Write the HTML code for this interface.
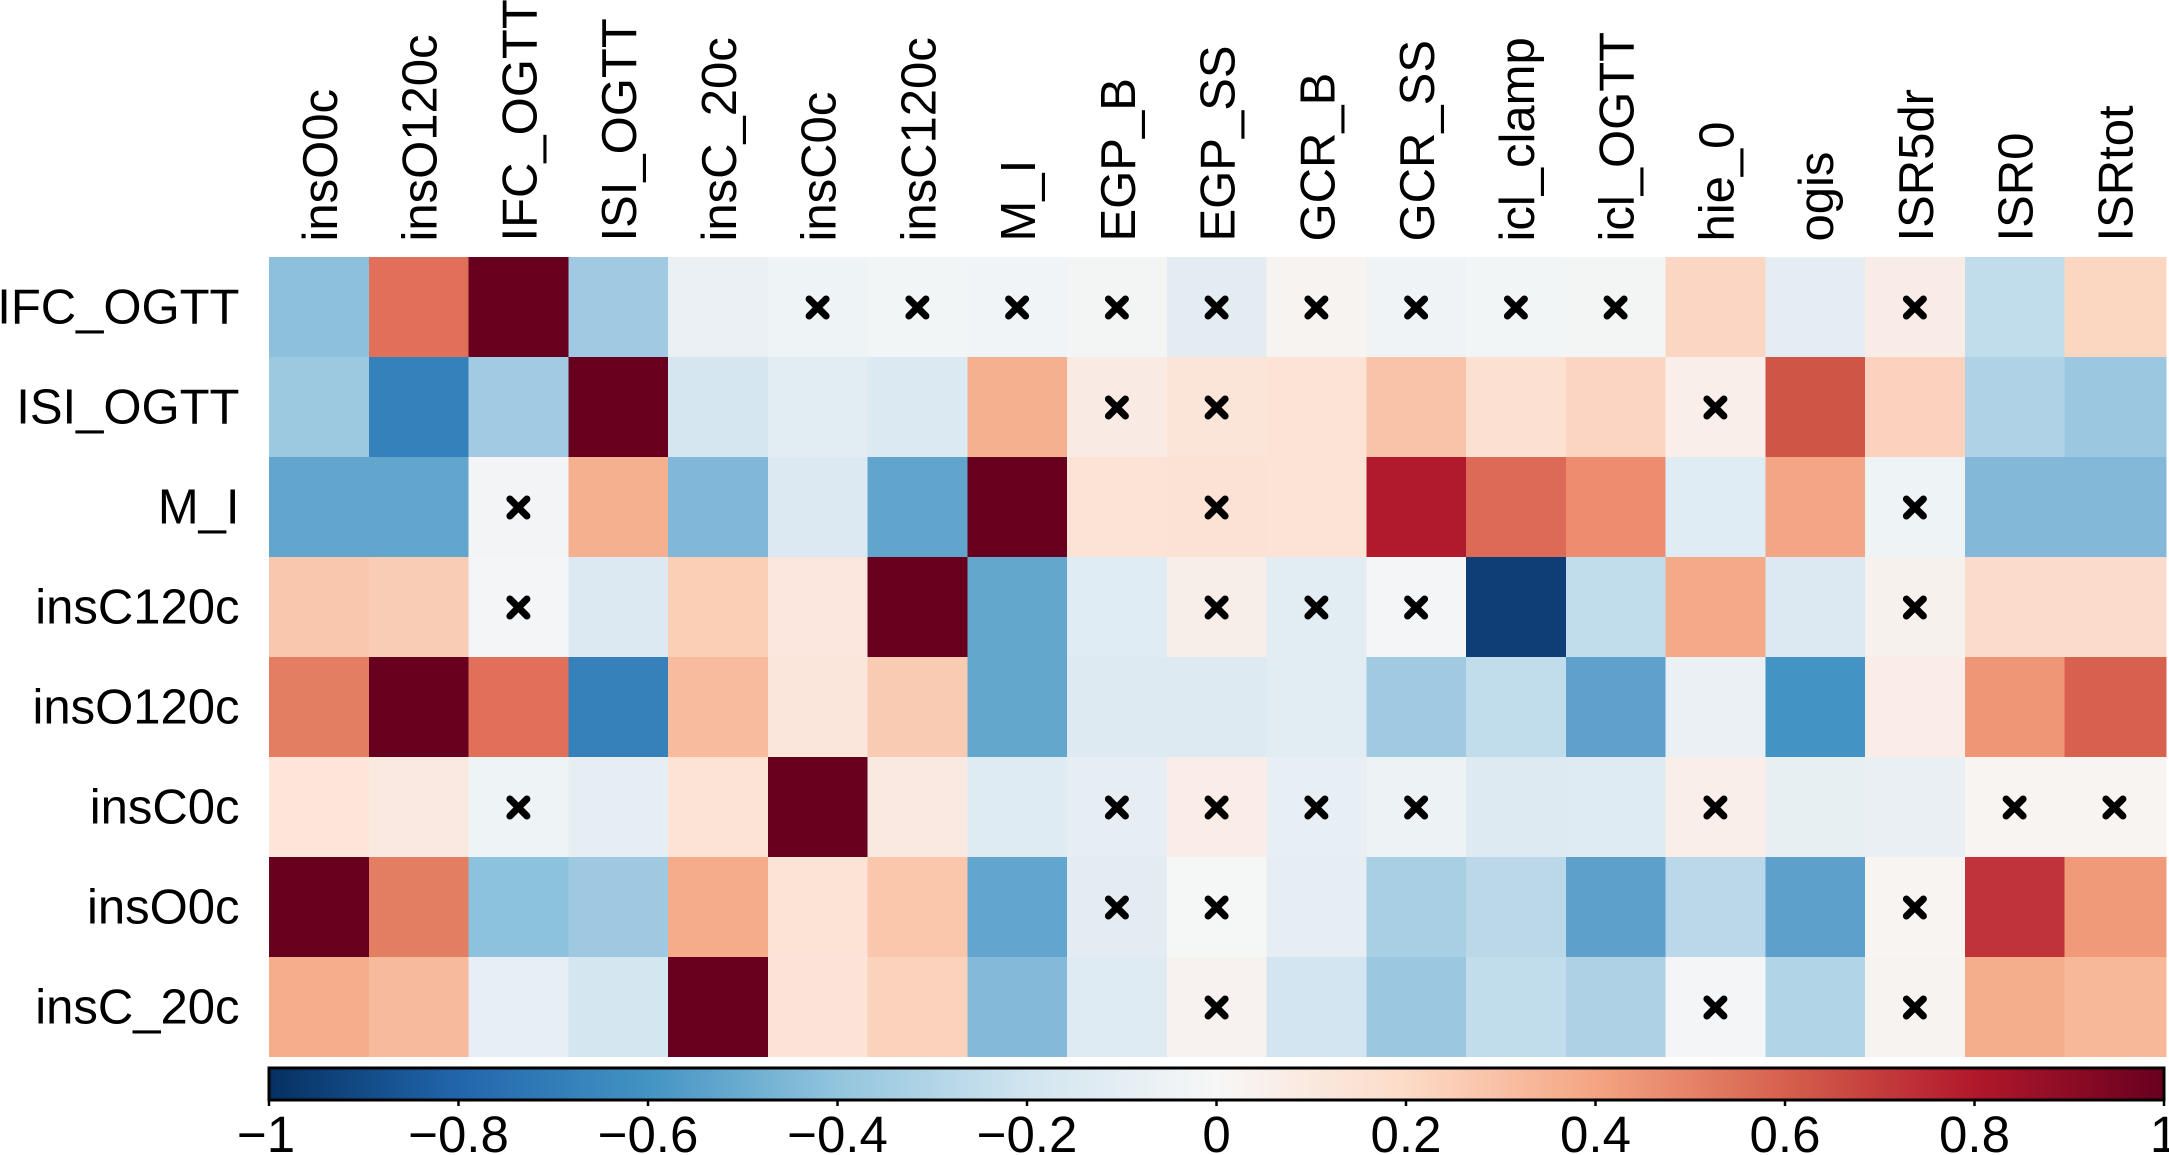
<!DOCTYPE html>
<html><head><meta charset="utf-8">
<style>
html,body{margin:0;padding:0;background:#fff;}
svg{display:block;}
text{font-family:"Liberation Sans",Arial,Helvetica,sans-serif;fill:#000;}
</style></head>
<body>
<svg width="2169" height="1155" viewBox="0 0 2169 1155" xmlns="http://www.w3.org/2000/svg">
<defs>
<linearGradient id="cb" x1="0" x2="1" y1="0" y2="0">
<stop offset="0" stop-color="#053061"/>
<stop offset="0.1" stop-color="#2166AC"/>
<stop offset="0.2" stop-color="#4393C3"/>
<stop offset="0.3" stop-color="#92C5DE"/>
<stop offset="0.4" stop-color="#D1E5F0"/>
<stop offset="0.5" stop-color="#F7F7F7"/>
<stop offset="0.6" stop-color="#FDDBC7"/>
<stop offset="0.7" stop-color="#F4A582"/>
<stop offset="0.8" stop-color="#D6604D"/>
<stop offset="0.9" stop-color="#B2182B"/>
<stop offset="1" stop-color="#67001F"/>
</linearGradient>
</defs>
<rect width="2169" height="1155" fill="#fff"/>

<!-- Column labels -->
<g font-size="49">
<text transform="translate(336.9,241.5) rotate(-90)">insO0c</text>
<text transform="translate(436.6,241.5) rotate(-90)">insO120c</text>
<text transform="translate(536.4,241.5) rotate(-90)">IFC_OGTT</text>
<text transform="translate(636.1,241.5) rotate(-90)">ISI_OGTT</text>
<text transform="translate(735.9,241.5) rotate(-90)">insC_20c</text>
<text transform="translate(835.6,241.5) rotate(-90)">insC0c</text>
<text transform="translate(935.4,241.5) rotate(-90)">insC120c</text>
<text transform="translate(1035.1,241.5) rotate(-90)">M_I</text>
<text transform="translate(1134.9,241.5) rotate(-90)">EGP_B</text>
<text transform="translate(1234.6,241.5) rotate(-90)">EGP_SS</text>
<text transform="translate(1334.4,241.5) rotate(-90)">GCR_B</text>
<text transform="translate(1434.1,241.5) rotate(-90)">GCR_SS</text>
<text transform="translate(1533.9,241.5) rotate(-90)">icl_clamp</text>
<text transform="translate(1633.6,241.5) rotate(-90)">icl_OGTT</text>
<text transform="translate(1733.4,241.5) rotate(-90)">hie_0</text>
<text transform="translate(1833.1,241.5) rotate(-90)">ogis</text>
<text transform="translate(1932.9,241.5) rotate(-90)">ISR5dr</text>
<text transform="translate(2032.6,241.5) rotate(-90)">ISR0</text>
<text transform="translate(2132.4,241.5) rotate(-90)">ISRtot</text>
</g>

<!-- Row labels -->
<g font-size="49" text-anchor="end">
<text x="239.5" y="323.5">IFC_OGTT</text>
<text x="239.5" y="423.5">ISI_OGTT</text>
<text x="239.5" y="523.5">M_I</text>
<text x="239.5" y="623.5">insC120c</text>
<text x="239.5" y="723.5">insO120c</text>
<text x="239.5" y="823.5">insC0c</text>
<text x="239.5" y="923.5">insO0c</text>
<text x="239.5" y="1023.5">insC_20c</text>
</g>

<!-- Cells -->
<g shape-rendering="crispEdges">
<!-- Row 0 IFC_OGTT -->
<g transform="translate(0,257)">
<rect x="269" width="100.5" height="100.5" fill="#8CC0DD"/>
<rect x="368.75" width="100.5" height="100.5" fill="#E0705A"/>
<rect x="468.5" width="100.5" height="100.5" fill="#67001F"/>
<rect x="568.25" width="100.5" height="100.5" fill="#9FCAE1"/>
<rect x="668" width="100.5" height="100.5" fill="#EAF0F4"/>
<rect x="767.75" width="100.5" height="100.5" fill="#EEF3F6"/>
<rect x="867.5" width="100.5" height="100.5" fill="#F2F5F6"/>
<rect x="967.25" width="100.5" height="100.5" fill="#F0F4F6"/>
<rect x="1067" width="100.5" height="100.5" fill="#F3F5F5"/>
<rect x="1166.75" width="100.5" height="100.5" fill="#E3ECF1"/>
<rect x="1266.5" width="100.5" height="100.5" fill="#F7F3F0"/>
<rect x="1366.25" width="100.5" height="100.5" fill="#EFF3F5"/>
<rect x="1466" width="100.5" height="100.5" fill="#F2F5F6"/>
<rect x="1565.75" width="100.5" height="100.5" fill="#F3F5F5"/>
<rect x="1665.5" width="100.5" height="100.5" fill="#FBD6C2"/>
<rect x="1765.25" width="100.5" height="100.5" fill="#E4EDF1"/>
<rect x="1865" width="100.5" height="100.5" fill="#F9ECE6"/>
<rect x="1964.75" width="100.5" height="100.5" fill="#C1DCEA"/>
<rect x="2064.5" width="102" height="100.5" fill="#FBD7C2"/>
</g>
<!-- Row 1 ISI_OGTT -->
<g transform="translate(0,357)">
<rect x="269" width="100.5" height="100.5" fill="#9DC9E0"/>
<rect x="368.75" width="100.5" height="100.5" fill="#3581BB"/>
<rect x="468.5" width="100.5" height="100.5" fill="#A0CBE2"/>
<rect x="568.25" width="100.5" height="100.5" fill="#67001F"/>
<rect x="668" width="100.5" height="100.5" fill="#D6E6F0"/>
<rect x="767.75" width="100.5" height="100.5" fill="#E2EDF3"/>
<rect x="867.5" width="100.5" height="100.5" fill="#DBE9F2"/>
<rect x="967.25" width="100.5" height="100.5" fill="#F5B090"/>
<rect x="1067" width="100.5" height="100.5" fill="#F9EBE4"/>
<rect x="1166.75" width="100.5" height="100.5" fill="#FBE4D8"/>
<rect x="1266.5" width="100.5" height="100.5" fill="#FCE3D6"/>
<rect x="1366.25" width="100.5" height="100.5" fill="#F8C3A7"/>
<rect x="1466" width="100.5" height="100.5" fill="#FCE0D2"/>
<rect x="1565.75" width="100.5" height="100.5" fill="#FBD5C2"/>
<rect x="1665.5" width="100.5" height="100.5" fill="#F9EEE9"/>
<rect x="1765.25" width="100.5" height="100.5" fill="#CF5546"/>
<rect x="1865" width="100.5" height="100.5" fill="#FAD2BD"/>
<rect x="1964.75" width="100.5" height="100.5" fill="#AFD2E6"/>
<rect x="2064.5" width="102" height="100.5" fill="#9BC8E0"/>
</g>
<!-- Row 2 M_I -->
<g transform="translate(0,457)">
<rect x="269" width="100.5" height="100.5" fill="#62A6CD"/>
<rect x="368.75" width="100.5" height="100.5" fill="#62A6CD"/>
<rect x="468.5" width="100.5" height="100.5" fill="#F2F4F5"/>
<rect x="568.25" width="100.5" height="100.5" fill="#F5B18F"/>
<rect x="668" width="100.5" height="100.5" fill="#81B8D9"/>
<rect x="767.75" width="100.5" height="100.5" fill="#DCE9F2"/>
<rect x="867.5" width="100.5" height="100.5" fill="#61A5CD"/>
<rect x="967.25" width="100.5" height="100.5" fill="#67001F"/>
<rect x="1067" width="100.5" height="100.5" fill="#FDE3D6"/>
<rect x="1166.75" width="100.5" height="100.5" fill="#FCE2D5"/>
<rect x="1266.5" width="100.5" height="100.5" fill="#FCE3D6"/>
<rect x="1366.25" width="100.5" height="100.5" fill="#B01A2C"/>
<rect x="1466" width="100.5" height="100.5" fill="#DC6A56"/>
<rect x="1565.75" width="100.5" height="100.5" fill="#EE8C6F"/>
<rect x="1665.5" width="100.5" height="100.5" fill="#E0ECF3"/>
<rect x="1765.25" width="100.5" height="100.5" fill="#F3A585"/>
<rect x="1865" width="100.5" height="100.5" fill="#EEF3F5"/>
<rect x="1964.75" width="100.5" height="100.5" fill="#84B8D9"/>
<rect x="2064.5" width="102" height="100.5" fill="#84B8D9"/>
</g>
<!-- Row 3 insC120c -->
<g transform="translate(0,557)">
<rect x="269" width="100.5" height="100.5" fill="#F9C7AE"/>
<rect x="368.75" width="100.5" height="100.5" fill="#F9CDB5"/>
<rect x="468.5" width="100.5" height="100.5" fill="#F3F5F6"/>
<rect x="568.25" width="100.5" height="100.5" fill="#DCE9F2"/>
<rect x="668" width="100.5" height="100.5" fill="#FBCFB6"/>
<rect x="767.75" width="100.5" height="100.5" fill="#FBE7DD"/>
<rect x="867.5" width="100.5" height="100.5" fill="#67001F"/>
<rect x="967.25" width="100.5" height="100.5" fill="#63A7CD"/>
<rect x="1067" width="100.5" height="100.5" fill="#E0ECF3"/>
<rect x="1166.75" width="100.5" height="100.5" fill="#F7EEEA"/>
<rect x="1266.5" width="100.5" height="100.5" fill="#E1ECF3"/>
<rect x="1366.25" width="100.5" height="100.5" fill="#F3F5F6"/>
<rect x="1466" width="100.5" height="100.5" fill="#0F3D75"/>
<rect x="1565.75" width="100.5" height="100.5" fill="#C1DCEA"/>
<rect x="1665.5" width="100.5" height="100.5" fill="#F4AA88"/>
<rect x="1765.25" width="100.5" height="100.5" fill="#DCE9F2"/>
<rect x="1865" width="100.5" height="100.5" fill="#F7F1EE"/>
<rect x="1964.75" width="100.5" height="100.5" fill="#FBDCCC"/>
<rect x="2064.5" width="102" height="100.5" fill="#FBDCCC"/>
</g>
<!-- Row 4 insO120c -->
<g transform="translate(0,657)">
<rect x="269" width="100.5" height="100.5" fill="#E37E63"/>
<rect x="368.75" width="100.5" height="100.5" fill="#67001F"/>
<rect x="468.5" width="100.5" height="100.5" fill="#E0705A"/>
<rect x="568.25" width="100.5" height="100.5" fill="#3781BA"/>
<rect x="668" width="100.5" height="100.5" fill="#F8BB9E"/>
<rect x="767.75" width="100.5" height="100.5" fill="#FBE6DC"/>
<rect x="867.5" width="100.5" height="100.5" fill="#FACBB3"/>
<rect x="967.25" width="100.5" height="100.5" fill="#63A7CD"/>
<rect x="1067" width="100.5" height="100.5" fill="#DEEAF2"/>
<rect x="1166.75" width="100.5" height="100.5" fill="#DEEAF2"/>
<rect x="1266.5" width="100.5" height="100.5" fill="#E2EDF3"/>
<rect x="1366.25" width="100.5" height="100.5" fill="#9FCAE1"/>
<rect x="1466" width="100.5" height="100.5" fill="#C1DCEA"/>
<rect x="1565.75" width="100.5" height="100.5" fill="#5FA1CC"/>
<rect x="1665.5" width="100.5" height="100.5" fill="#EAF0F4"/>
<rect x="1765.25" width="100.5" height="100.5" fill="#4394C4"/>
<rect x="1865" width="100.5" height="100.5" fill="#FAEDE7"/>
<rect x="1964.75" width="100.5" height="100.5" fill="#EF9676"/>
<rect x="2064.5" width="102" height="100.5" fill="#D8604F"/>
</g>
<!-- Row 5 insC0c -->
<g transform="translate(0,757)">
<rect x="269" width="100.5" height="100.5" fill="#FDE5D9"/>
<rect x="368.75" width="100.5" height="100.5" fill="#FAE9E1"/>
<rect x="468.5" width="100.5" height="100.5" fill="#EEF3F6"/>
<rect x="568.25" width="100.5" height="100.5" fill="#E5EEF3"/>
<rect x="668" width="100.5" height="100.5" fill="#FDE3D6"/>
<rect x="767.75" width="100.5" height="100.5" fill="#67001F"/>
<rect x="867.5" width="100.5" height="100.5" fill="#FAE9E1"/>
<rect x="967.25" width="100.5" height="100.5" fill="#DFEBF3"/>
<rect x="1067" width="100.5" height="100.5" fill="#E6EEF4"/>
<rect x="1166.75" width="100.5" height="100.5" fill="#FAEDE8"/>
<rect x="1266.5" width="100.5" height="100.5" fill="#E8EFF4"/>
<rect x="1366.25" width="100.5" height="100.5" fill="#EDF2F5"/>
<rect x="1466" width="100.5" height="100.5" fill="#DDEAF2"/>
<rect x="1565.75" width="100.5" height="100.5" fill="#DFEBF3"/>
<rect x="1665.5" width="100.5" height="100.5" fill="#FAEEE9"/>
<rect x="1765.25" width="100.5" height="100.5" fill="#E8EFF3"/>
<rect x="1865" width="100.5" height="100.5" fill="#E9EFF3"/>
<rect x="1964.75" width="100.5" height="100.5" fill="#F7F4F2"/>
<rect x="2064.5" width="102" height="100.5" fill="#F7F4F2"/>
</g>
<!-- Row 6 insO0c -->
<g transform="translate(0,857)">
<rect x="269" width="100.5" height="100.5" fill="#67001F"/>
<rect x="368.75" width="100.5" height="100.5" fill="#E37E63"/>
<rect x="468.5" width="100.5" height="100.5" fill="#8DC2DE"/>
<rect x="568.25" width="100.5" height="100.5" fill="#9EC9E0"/>
<rect x="668" width="100.5" height="100.5" fill="#F5AC8A"/>
<rect x="767.75" width="100.5" height="100.5" fill="#FDE3D6"/>
<rect x="867.5" width="100.5" height="100.5" fill="#FAC6AC"/>
<rect x="967.25" width="100.5" height="100.5" fill="#62A6CD"/>
<rect x="1067" width="100.5" height="100.5" fill="#E3ECF3"/>
<rect x="1166.75" width="100.5" height="100.5" fill="#F5F6F6"/>
<rect x="1266.5" width="100.5" height="100.5" fill="#E6EEF3"/>
<rect x="1366.25" width="100.5" height="100.5" fill="#A8CFE4"/>
<rect x="1466" width="100.5" height="100.5" fill="#BBD8E9"/>
<rect x="1565.75" width="100.5" height="100.5" fill="#5EA0CC"/>
<rect x="1665.5" width="100.5" height="100.5" fill="#BAD8E9"/>
<rect x="1765.25" width="100.5" height="100.5" fill="#5EA0CC"/>
<rect x="1865" width="100.5" height="100.5" fill="#F7F4F2"/>
<rect x="1964.75" width="100.5" height="100.5" fill="#C0333A"/>
<rect x="2064.5" width="102" height="100.5" fill="#F09A7A"/>
</g>
<!-- Row 7 insC_20c -->
<g transform="translate(0,957)">
<rect x="269" width="100.5" height="100" fill="#F5AD8B"/>
<rect x="368.75" width="100.5" height="100" fill="#F8BA9D"/>
<rect x="468.5" width="100.5" height="100" fill="#E8EFF4"/>
<rect x="568.25" width="100.5" height="100" fill="#D4E6F0"/>
<rect x="668" width="100.5" height="100" fill="#67001F"/>
<rect x="767.75" width="100.5" height="100" fill="#FCE3D7"/>
<rect x="867.5" width="100.5" height="100" fill="#FBD3BD"/>
<rect x="967.25" width="100.5" height="100" fill="#85B9D9"/>
<rect x="1067" width="100.5" height="100" fill="#DFEBF3"/>
<rect x="1166.75" width="100.5" height="100" fill="#F7F2EF"/>
<rect x="1266.5" width="100.5" height="100" fill="#D3E5F0"/>
<rect x="1366.25" width="100.5" height="100" fill="#9BC7E0"/>
<rect x="1466" width="100.5" height="100" fill="#C1DCEA"/>
<rect x="1565.75" width="100.5" height="100" fill="#AED1E5"/>
<rect x="1665.5" width="100.5" height="100" fill="#F3F5F6"/>
<rect x="1765.25" width="100.5" height="100" fill="#B1D4E7"/>
<rect x="1865" width="100.5" height="100" fill="#F7F3F1"/>
<rect x="1964.75" width="100.5" height="100" fill="#F5AE8C"/>
<rect x="2064.5" width="102" height="100" fill="#F7B89A"/>
</g>
</g>

<!-- Cross markers -->
<g stroke="#000" stroke-width="7" stroke-linecap="round" fill="none">
<!-- row 0 (cy=307.5) -->
<path d="M809.1 299l17 17M826.1 299l-17 17"/>
<path d="M908.9 299l17 17M925.9 299l-17 17"/>
<path d="M1008.6 299l17 17M1025.6 299l-17 17"/>
<path d="M1108.4 299l17 17M1125.4 299l-17 17"/>
<path d="M1208.1 299l17 17M1225.1 299l-17 17"/>
<path d="M1307.9 299l17 17M1324.9 299l-17 17"/>
<path d="M1407.6 299l17 17M1424.6 299l-17 17"/>
<path d="M1507.4 299l17 17M1524.4 299l-17 17"/>
<path d="M1607.1 299l17 17M1624.1 299l-17 17"/>
<path d="M1906.4 299l17 17M1923.4 299l-17 17"/>
<!-- row 1 (cy=407.5) -->
<path d="M1108.4 399l17 17M1125.4 399l-17 17"/>
<path d="M1208.1 399l17 17M1225.1 399l-17 17"/>
<path d="M1706.9 399l17 17M1723.9 399l-17 17"/>
<!-- row 2 -->
<path d="M509.9 499l17 17M526.9 499l-17 17"/>
<path d="M1208.1 499l17 17M1225.1 499l-17 17"/>
<path d="M1906.4 499l17 17M1923.4 499l-17 17"/>
<!-- row 3 -->
<path d="M509.9 599l17 17M526.9 599l-17 17"/>
<path d="M1208.1 599l17 17M1225.1 599l-17 17"/>
<path d="M1307.9 599l17 17M1324.9 599l-17 17"/>
<path d="M1407.6 599l17 17M1424.6 599l-17 17"/>
<path d="M1906.4 599l17 17M1923.4 599l-17 17"/>
<!-- row 5 -->
<path d="M509.9 799l17 17M526.9 799l-17 17"/>
<path d="M1108.4 799l17 17M1125.4 799l-17 17"/>
<path d="M1208.1 799l17 17M1225.1 799l-17 17"/>
<path d="M1307.9 799l17 17M1324.9 799l-17 17"/>
<path d="M1407.6 799l17 17M1424.6 799l-17 17"/>
<path d="M1706.9 799l17 17M1723.9 799l-17 17"/>
<path d="M2006.1 799l17 17M2023.1 799l-17 17"/>
<path d="M2105.9 799l17 17M2122.9 799l-17 17"/>
<!-- row 6 -->
<path d="M1108.4 899l17 17M1125.4 899l-17 17"/>
<path d="M1208.1 899l17 17M1225.1 899l-17 17"/>
<path d="M1906.4 899l17 17M1923.4 899l-17 17"/>
<!-- row 7 -->
<path d="M1208.1 999l17 17M1225.1 999l-17 17"/>
<path d="M1706.9 999l17 17M1723.9 999l-17 17"/>
<path d="M1906.4 999l17 17M1923.4 999l-17 17"/>
</g>

<!-- Colorbar -->
<rect x="269" y="1068" width="1895" height="32" fill="url(#cb)" stroke="#000" stroke-width="3"/>
<g stroke="#000" stroke-width="2.5">
<line x1="269" y1="1100" x2="269" y2="1106"/>
<line x1="458.5" y1="1100" x2="458.5" y2="1106"/>
<line x1="648" y1="1100" x2="648" y2="1106"/>
<line x1="837.5" y1="1100" x2="837.5" y2="1106"/>
<line x1="1027" y1="1100" x2="1027" y2="1106"/>
<line x1="1216.5" y1="1100" x2="1216.5" y2="1106"/>
<line x1="1406" y1="1100" x2="1406" y2="1106"/>
<line x1="1595.5" y1="1100" x2="1595.5" y2="1106"/>
<line x1="1785" y1="1100" x2="1785" y2="1106"/>
<line x1="1974.5" y1="1100" x2="1974.5" y2="1106"/>
<line x1="2164" y1="1100" x2="2164" y2="1106"/>
</g>
<g font-size="51" text-anchor="middle">
<text x="266" y="1152">−1</text>
<text x="458.5" y="1152">−0.8</text>
<text x="648" y="1152">−0.6</text>
<text x="837.5" y="1152">−0.4</text>
<text x="1027" y="1152">−0.2</text>
<text x="1216.5" y="1152">0</text>
<text x="1406" y="1152">0.2</text>
<text x="1595.5" y="1152">0.4</text>
<text x="1785" y="1152">0.6</text>
<text x="1974.5" y="1152">0.8</text>
<text x="2164" y="1152">1</text>
</g>
</svg>
</body></html>
